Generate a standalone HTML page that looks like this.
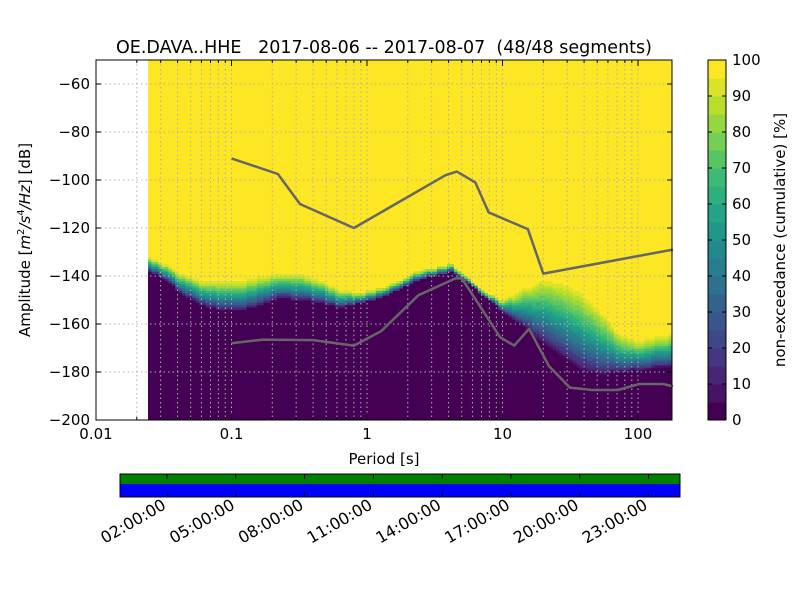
<!DOCTYPE html>
<html><head><meta charset="utf-8"><style>
html,body{margin:0;padding:0;background:#fff}
svg{display:block;font-family:"DejaVu Sans","Liberation Sans",sans-serif}
text{white-space:pre}
</style></head><body>
<svg id="c" width="800" height="600" viewBox="0 0 800 600" xmlns="http://www.w3.org/2000/svg">
<text x="384" y="53" font-size="17.5" text-anchor="middle" xml:space="preserve">OE.DAVA..HHE   2017-08-06 -- 2017-08-07  (48/48 segments)</text>
<g id="img"></g>
<g id="grid"></g>
<g id="models"></g>
<rect x="96" y="60" width="576" height="360" fill="none" stroke="#000" stroke-width="1"/>
<g id="axes"></g>
<text x="384" y="464" font-size="15" text-anchor="middle">Period [s]</text>
<text transform="translate(30,240) rotate(-90)" font-size="15" text-anchor="middle">Amplitude [<tspan font-style="italic">m</tspan><tspan font-size="10" dy="-6">2</tspan><tspan dy="6" font-style="italic">/s</tspan><tspan font-size="10" dy="-6">4</tspan><tspan dy="6" font-style="italic">/Hz</tspan>] [dB]</text>
<g id="cbar"></g>
<text transform="translate(785,240) rotate(-90)" font-size="15" text-anchor="middle">non-exceedance (cumulative) [%]</text>
<g id="tbar"></g>
</svg>
<script>
const periods=[0.0242,0.0302,0.0424,0.0596,0.0837,0.117,0.165,0.232,0.326,0.458,0.643,0.903,1.27,1.78,2.30,2.97,4.17,5.38,6.94,9.75,13.7,19.2,27.0,37.9,53.3,74.9,105,148,181];
const purpleTop=[-138,-140,-147,-152,-154,-154,-152,-149,-150,-151,-153,-151,-149,-145,-142,-140,-138,-142,-147,-154,-160,-167,-173,-179,-181,-180,-179,-178,-178];
const yellowBottom=[-132,-134,-139,-142,-142,-142,-140,-139,-139,-142,-146,-147,-145,-142,-138,-137,-135,-140,-146,-150,-146,-141,-142,-146,-154,-165,-167,-165,-164];
const nhnmP=[0.1,0.22,0.32,0.8,3.8,4.6,6.3,7.9,15.4,20,181];
const nhnmDb=[-91,-97.5,-110,-120,-98,-96.5,-101,-113.5,-120.5,-139,-129];
const nlnmP=[0.1,0.17,0.4,0.8,1.27,2.4,4.5,5,6.2,9.6,12.2,15.7,22,31.4,45.8,71,102,153,181];
const nlnmDb=[-168,-166.5,-166.7,-169,-163,-148,-141,-141,-149,-165.5,-169,-162,-177.5,-186.5,-187.5,-187.5,-185,-185,-186];
const yTicks=[-200,-180,-160,-140,-120,-100,-80,-60];
const xTicks=[0.01,0.1,1,10,100];
const xTickLabels=["0.01","0.1","1","10","100"];
const cbTicks=[0,10,20,30,40,50,60,70,80,90,100];
const timeLabels=["02:00:00","05:00:00","08:00:00","11:00:00","14:00:00","17:00:00","20:00:00","23:00:00"];

const NS="http://www.w3.org/2000/svg";
const X0=96,X1=672,Y0=60,Y1=420;
const lx0=Math.log10(0.01),lx1=lx0+(X1-X0)/135.5;
function xs(p){return X0+(Math.log10(p)-lx0)/(lx1-lx0)*(X1-X0);}
function ys(d){return Y1-(d+200)/150*(Y1-Y0);}
function mk(tag,attrs,parent){const e=document.createElementNS(NS,tag);for(const k in attrs)e.setAttribute(k,attrs[k]);parent.appendChild(e);return e;}
const vk=[[68,1,84],[72,40,120],[62,74,137],[49,104,142],[38,130,142],[31,158,137],[53,183,121],[109,205,89],[180,222,44],[253,231,37]];
function viridis(t){t=Math.max(0,Math.min(1,t));const f=t*9,i=Math.min(8,Math.floor(f)),u=f-i;const a=vk[i],b=vk[i+1];return `rgb(${Math.round(a[0]+(b[0]-a[0])*u)},${Math.round(a[1]+(b[1]-a[1])*u)},${Math.round(a[2]+(b[2]-a[2])*u)})`;}
function q(t){return Math.round(Math.max(0,Math.min(1,t))*20)/20;}
function interpAt(x,arr){const xsArr=periods.map(xs);
  if(x<=xsArr[0])return arr[0];
  for(let i=1;i<xsArr.length;i++){if(x<=xsArr[i]){const u=(x-xsArr[i-1])/(xsArr[i]-xsArr[i-1]);return arr[i-1]+(arr[i]-arr[i-1])*u;}}
  return arr[arr.length-1];}

// histogram image
const img=document.getElementById('img');
const xStart=xs(periods[0]),xEnd=Math.min(X1,xs(periods[periods.length-1]));
const CWID=3.4;
for(let xa=xStart;xa<xEnd;xa+=CWID){
  const w=Math.min(CWID,xEnd-xa)+0.4;
  const xm=xa+CWID/2;
  const lo=Math.round(interpAt(xm,purpleTop)),hi=Math.round(interpAt(xm,yellowBottom));
  let r=mk('rect',{x:xa,y:Y0,width:w,height:ys(hi)-Y0,fill:viridis(1)},img);
  
  
  r=mk('rect',{x:xa,y:ys(lo),width:w,height:Y1-ys(lo),fill:viridis(0)},img);
  
  
  const steps=Math.max(1,Math.round((hi-lo)/1));
  for(let k=0;k<steps;k++){
    const d0=lo+(hi-lo)*k/steps,d1=lo+(hi-lo)*(k+1)/steps;
    const t=Math.pow((k+0.5)/steps,0.8);
    const c=mk('rect',{x:xa,y:ys(d1),width:w,height:ys(d0)-ys(d1)+0.5,fill:viridis(q(t))},img);
    
    
  }
}
// grid
const grid=document.getElementById('grid');
for(const t of yTicks){const l=mk('line',{x1:X0,x2:X1,y1:ys(t),y2:ys(t),stroke:'#b0b0b0','stroke-dasharray':'1.5,3','stroke-width':1},grid);
  }
for(let e=-2;e<=2;e++)for(let m=1;m<10;m++){const p=m*Math.pow(10,e);const x=xs(p);if(x<X0||x>X1)continue;
  const l=mk('line',{x1:x,x2:x,y1:Y0,y2:Y1,stroke:'#b0b0b0','stroke-dasharray':'1.5,3','stroke-width':1},grid);
  }
// models
const mg=document.getElementById('models');
function line(P,D,name){const pts=P.map((p,i)=>xs(Math.min(p,181))+','+ys(D[i])).join(' ');
  const pl=mk('polyline',{points:pts,fill:'none',stroke:'#666','stroke-width':2.5,'stroke-linejoin':'round'},mg);
  }
line(nhnmP,nhnmDb,'nhnm-line');line(nlnmP,nlnmDb,'nlnm-line');
// axes
const ax=document.getElementById('axes');
for(const t of yTicks){const y=ys(t);
  mk('line',{x1:X0,x2:X0+5,y1:y,y2:y,stroke:'#000'},ax);mk('line',{x1:X1-5,x2:X1,y1:y,y2:y,stroke:'#000'},ax);
  const tx=mk('text',{x:X0-6,y:y+5,'font-size':15,'text-anchor':'end'},ax);tx.textContent='\u2212'+Math.abs(t);
  }
xTicks.forEach((p,i)=>{const x=xs(p);
  mk('line',{x1:x,x2:x,y1:Y1,y2:Y1-6,stroke:'#000'},ax);mk('line',{x1:x,x2:x,y1:Y0,y2:Y0+6,stroke:'#000'},ax);
  const tx=mk('text',{x:x,y:Y1+19,'font-size':15,'text-anchor':'middle'},ax);tx.textContent=xTickLabels[i];
  });
for(let e=-2;e<=2;e++)for(let m=2;m<10;m++){const x=xs(m*Math.pow(10,e));if(x>X1)continue;
  mk('line',{x1:x,x2:x,y1:Y1,y2:Y1-3,stroke:'#000'},ax);mk('line',{x1:x,x2:x,y1:Y0,y2:Y0+3,stroke:'#000'},ax);}
// colorbar
const cb=document.getElementById('cbar');const CX=708,CW=18;
for(let k=0;k<20;k++){const r=mk('rect',{x:CX,y:Y1-(k+1)*18,width:CW,height:18.5,fill:viridis(k/19)},cb);
  }
mk('rect',{x:CX,y:Y0,width:CW,height:360,fill:'none',stroke:'#000'},cb);
for(const t of cbTicks){const y=Y1-t*3.6;
  mk('line',{x1:CX,x2:CX+4,y1:y,y2:y,stroke:'#000'},cb);mk('line',{x1:CX+CW-4,x2:CX+CW,y1:y,y2:y,stroke:'#000'},cb);
  const tx=mk('text',{x:CX+CW+6,y:y+5,'font-size':15},cb);tx.textContent=t;
  }
// time bar
const tb=document.getElementById('tbar');
mk('rect',{x:120,y:474,width:560,height:10,fill:'#008000'},tb);
mk('rect',{x:120,y:484,width:560,height:13,fill:'#0000ff'},tb);
mk('rect',{x:120,y:474,width:560,height:23,fill:'none',stroke:'#000'},tb);
timeLabels.forEach((s,i)=>{const x=167+i*68.8;
  mk('line',{x1:x,x2:x,y1:474,y2:479,stroke:'#000'},tb);mk('line',{x1:x,x2:x,y1:492,y2:497,stroke:'#000'},tb);
  const tx=mk('text',{x:x,y:508,'font-size':16,'text-anchor':'end',transform:`rotate(-30 ${x} 508)`},tb);tx.textContent=s;
  });
</script>
</body></html>
